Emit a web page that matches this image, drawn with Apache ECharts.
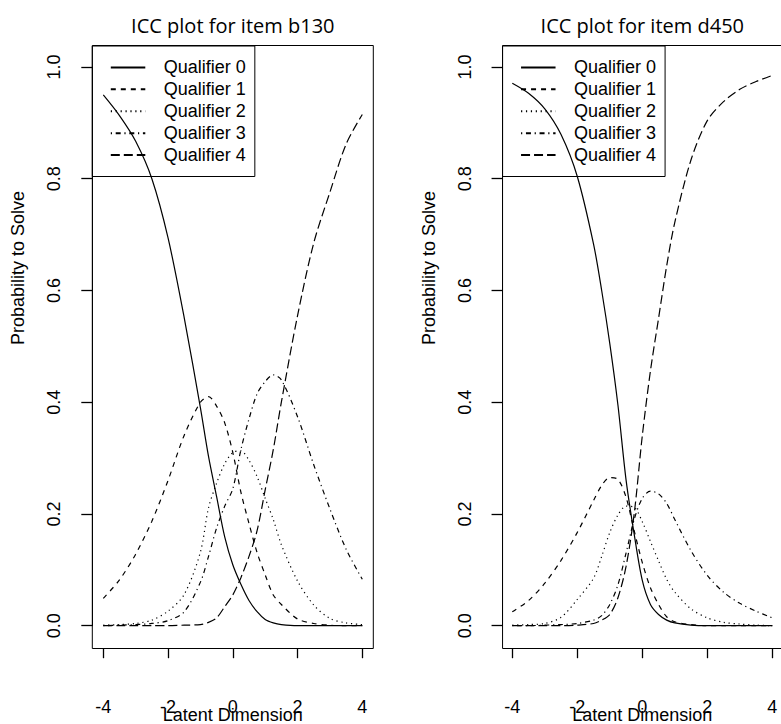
<!DOCTYPE html>
<html>
<head>
<meta charset="utf-8">
<script src="https://cdn.jsdelivr.net/npm/echarts@6.0.0/dist/echarts.min.js"></script>
<style>
html, body { margin: 0; padding: 0; background: #fff; overflow: hidden; }
#icc-plot { width: 781px; height: 724px; }
</style>
</head>
<body>
<div id="icc-plot"></div>
<script>
// category names, tick steps
const qualifiers = ["Qualifier 0", "Qualifier 1", "Qualifier 2", "Qualifier 3", "Qualifier 4"];
const xTickStep = 2;
const yTickStep = 0.2;

// item b130
const latentB130 = [-4, -3.5, -3, -2.5, -2, -1.5, -1, -0.75, -0.5, -0.25, 0, 0.25, 0.5, 0.75, 1, 1.25, 1.5, 2, 2.5, 3, 3.5, 4];
const b130Q0 = [0.95, 0.913, 0.867, 0.80, 0.694, 0.551, 0.39, 0.303, 0.231, 0.159, 0.109, 0.074, 0.045, 0.025, 0.011, 0.005, 0.002, 0, 0, 0, 0, 0];
const b130Q1 = [0.049, 0.082, 0.128, 0.187, 0.26, 0.341, 0.40, 0.41, 0.393, 0.363, 0.31, 0.239, 0.183, 0.131, 0.091, 0.055, 0.038, 0.012, 0.004, 0.001, 0, 0];
const b130Q2 = [0.001, 0.002, 0.004, 0.01, 0.026, 0.056, 0.132, 0.211, 0.255, 0.29, 0.31, 0.313, 0.296, 0.267, 0.228, 0.19, 0.145, 0.08, 0.037, 0.013, 0.005, 0.002];
const b130Q3 = [0, 0.001, 0.002, 0.004, 0.009, 0.025, 0.078, 0.124, 0.175, 0.214, 0.245, 0.315, 0.37, 0.415, 0.437, 0.449, 0.44, 0.374, 0.288, 0.209, 0.137, 0.083];
const b130Q4 = [0, 0, 0, 0, 0, 0.001, 0.002, 0.006, 0.014, 0.034, 0.055, 0.086, 0.124, 0.17, 0.243, 0.315, 0.40, 0.555, 0.685, 0.776, 0.862, 0.915];

// item d450
const latentD450 = [-4, -3.5, -3, -2.5, -2, -1.5, -1.25, -1, -0.75, -0.5, -0.25, 0, 0.25, 0.5, 0.75, 1, 1.5, 2, 2.5, 3, 3.5, 4];
const d450Q0 = [0.971, 0.953, 0.925, 0.879, 0.804, 0.683, 0.60, 0.505, 0.395, 0.261, 0.164, 0.081, 0.038, 0.02, 0.01, 0.005, 0.001, 0, 0, 0, 0, 0];
const d450Q1 = [0.025, 0.045, 0.076, 0.117, 0.167, 0.224, 0.251, 0.265, 0.262, 0.23, 0.17, 0.113, 0.068, 0.038, 0.016, 0.007, 0.002, 0, 0, 0, 0, 0];
const d450Q2 = [0.001, 0.002, 0.004, 0.015, 0.047, 0.085, 0.124, 0.167, 0.198, 0.214, 0.212, 0.186, 0.151, 0.116, 0.083, 0.06, 0.03, 0.014, 0.006, 0.003, 0.001, 0];
const d450Q3 = [0, 0, 0.001, 0.002, 0.004, 0.01, 0.018, 0.038, 0.073, 0.13, 0.19, 0.228, 0.241, 0.236, 0.219, 0.19, 0.134, 0.09, 0.06, 0.04, 0.026, 0.014];
const d450Q4 = [0, 0, 0, 0, 0.001, 0.004, 0.01, 0.02, 0.05, 0.106, 0.2, 0.34, 0.456, 0.55, 0.644, 0.722, 0.834, 0.904, 0.938, 0.96, 0.974, 0.985];

// R lty: solid, dashed, dotted, dotdash, longdash
const lineTypes = ["solid", [5, 5], [1.2, 3.7], [1.2, 3.7, 5, 3.7], [9, 4]];
const FONT = "Liberation Sans";

function makeSeries(xs, ysList, idx) {
  return ysList.map((ys, i) => ({
    name: qualifiers[i],
    type: "line",
    xAxisIndex: idx,
    yAxisIndex: idx,
    data: xs.map((x, j) => [x, ys[j]]),
    symbol: "none",
    showSymbol: false,
    smooth: 0.3,
    clip: false,
    silent: true,
    itemStyle: { color: "#000", opacity: 0 },
    lineStyle: { color: "#000", width: 1.2, type: lineTypes[i] },
  }));
}

// data grids span -4..4 / 0..1; axes are pushed out onto the frame like R does
function makeXAxis(idx) {
  return {
    type: "value", gridIndex: idx, min: -4, max: 4, interval: xTickStep,
    position: "bottom", offset: 22.5,
    axisLine: { show: true, onZero: false, lineStyle: { color: "#000", width: 1 } },
    splitLine: { show: false },
    axisTick: { show: true, length: 10, lineStyle: { color: "#000", width: 1.3 } },
    axisLabel: { margin: 24, padding: [26, 0, 0, 0], color: "#000", fontSize: 18, fontFamily: FONT },
  };
}

function makeYAxis(idx, offset) {
  return {
    type: "value", gridIndex: idx, min: 0, max: 1, interval: yTickStep,
    position: "left", offset: offset,
    axisLine: { show: true, onZero: false, lineStyle: { color: "#000", width: 1 } },
    splitLine: { show: false },
    axisTick: { show: true, length: 11, lineStyle: { color: "#000", width: 1.3 } },
    axisLabel: {
      rotate: 90, margin: 29, color: "#000", fontSize: 18, fontFamily: FONT,
      formatter: (v) => v.toFixed(1),
    },
  };
}

// hidden axes that only carry the frame grids
function frameAxis(idx) {
  return { type: "value", gridIndex: idx, show: false, min: 0, max: 1 };
}

function makeLegend(left) {
  return {
    data: qualifiers, orient: "vertical", left: left, top: 46,
    padding: [10.5, 9, 10.5, 17.5], itemGap: 0, itemWidth: 34.5, itemHeight: 10,
    borderColor: "#000", borderWidth: 1, borderRadius: 0,
    selectedMode: false,
    itemStyle: { opacity: 0 },
    textStyle: { color: "#000", fontSize: 18, fontFamily: FONT, lineHeight: 21.9, padding: [0, 0, 0, 13.5] },
  };
}

function makeText(text, x, y, size, family, rotation) {
  return {
    type: "text", x: x, y: y, rotation: rotation || 0,
    style: { text: text, fill: "#000", fontSize: size, fontFamily: family, align: "center", verticalAlign: "middle" },
  };
}

const chart = echarts.init(document.getElementById("icc-plot"), null, { renderer: "svg" });
chart.setOption({
  animation: false,
  backgroundColor: "#fff",
  grid: [
    { left: 103.3, top: 67, width: 259, height: 558.7, outerBoundsMode: "none" },
    { left: 512.3, top: 67, width: 260, height: 558.7, outerBoundsMode: "none" },
    { left: 92.3, top: 45.5, width: 281, height: 603, show: true, borderColor: "#000", borderWidth: 1, outerBoundsMode: "none" },
    { left: 502.55, top: 45.5, width: 279.5, height: 603, show: true, borderColor: "#000", borderWidth: 1, outerBoundsMode: "none" },
  ],
  xAxis: [makeXAxis(0), makeXAxis(1), frameAxis(2), frameAxis(3)],
  yAxis: [makeYAxis(0, 11), makeYAxis(1, 9.75), frameAxis(2), frameAxis(3)],
  legend: [makeLegend(92.3), makeLegend(502.55)],
  graphic: [
    makeText("ICC plot for item b130", 232.8, 25, 20, "Open Sans"),
    makeText("ICC plot for item d450", 642.3, 25, 20, "Open Sans"),
    makeText("Probability to Solve", 18.3, 268, 18, FONT, Math.PI / 2),
    makeText("Probability to Solve", 428.5, 268, 18, FONT, Math.PI / 2),
    makeText("Latent Dimension", 232.8, 715, 18, FONT),
    makeText("Latent Dimension", 642.3, 715, 18, FONT),
  ],
  series: makeSeries(latentB130, [b130Q0, b130Q1, b130Q2, b130Q3, b130Q4], 0)
    .concat(makeSeries(latentD450, [d450Q0, d450Q1, d450Q2, d450Q3, d450Q4], 1)),
});
</script>
</body>
</html>
